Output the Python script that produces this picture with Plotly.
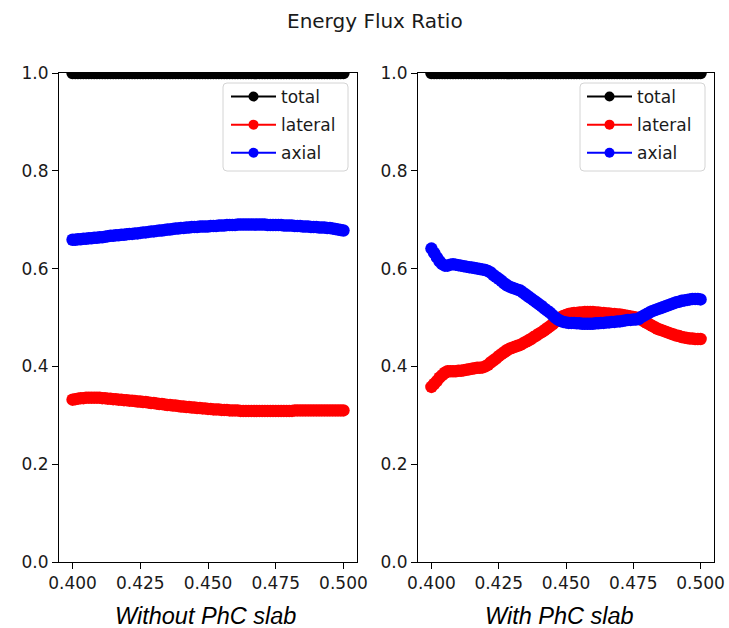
import plotly.graph_objects as go

# Frequency samples (shared by both panels)
freq = [0.400, 0.401, 0.402, 0.403, 0.404, 0.405, 0.406, 0.407, 0.408, 0.409,
        0.410, 0.411, 0.412, 0.413, 0.414, 0.415, 0.416, 0.417, 0.418, 0.419,
        0.420, 0.421, 0.422, 0.423, 0.424, 0.425, 0.426, 0.427, 0.428, 0.429,
        0.430, 0.431, 0.432, 0.433, 0.434, 0.435, 0.436, 0.437, 0.438, 0.439,
        0.440, 0.441, 0.442, 0.443, 0.444, 0.445, 0.446, 0.447, 0.448, 0.449,
        0.450, 0.451, 0.452, 0.453, 0.454, 0.455, 0.456, 0.457, 0.458, 0.459,
        0.460, 0.461, 0.462, 0.463, 0.464, 0.465, 0.466, 0.467, 0.468, 0.469,
        0.470, 0.471, 0.472, 0.473, 0.474, 0.475, 0.476, 0.477, 0.478, 0.479,
        0.480, 0.481, 0.482, 0.483, 0.484, 0.485, 0.486, 0.487, 0.488, 0.489,
        0.490, 0.491, 0.492, 0.493, 0.494, 0.495, 0.496, 0.497, 0.498, 0.499,
        0.500]

total = [1.0, 1.0, 1.0, 1.0, 1.0, 1.0, 1.0, 1.0, 1.0, 1.0,
         1.0, 1.0, 1.0, 1.0, 1.0, 1.0, 1.0, 1.0, 1.0, 1.0,
         1.0, 1.0, 1.0, 1.0, 1.0, 1.0, 1.0, 1.0, 1.0, 1.0,
         1.0, 1.0, 1.0, 1.0, 1.0, 1.0, 1.0, 1.0, 1.0, 1.0,
         1.0, 1.0, 1.0, 1.0, 1.0, 1.0, 1.0, 1.0, 1.0, 1.0,
         1.0, 1.0, 1.0, 1.0, 1.0, 1.0, 1.0, 1.0, 1.0, 1.0,
         1.0, 1.0, 1.0, 1.0, 1.0, 1.0, 1.0, 1.0, 1.0, 1.0,
         1.0, 1.0, 1.0, 1.0, 1.0, 1.0, 1.0, 1.0, 1.0, 1.0,
         1.0, 1.0, 1.0, 1.0, 1.0, 1.0, 1.0, 1.0, 1.0, 1.0,
         1.0, 1.0, 1.0, 1.0, 1.0, 1.0, 1.0, 1.0, 1.0, 1.0,
         1.0]

# Without PhC slab
lateral_bare = [0.332, 0.333, 0.334, 0.335, 0.335, 0.336, 0.336, 0.336, 0.336, 0.336,
                0.336, 0.335, 0.335, 0.334, 0.334, 0.333, 0.333, 0.332, 0.332, 0.331,
                0.331, 0.330, 0.330, 0.329, 0.328, 0.328, 0.327, 0.327, 0.326, 0.325,
                0.325, 0.324, 0.323, 0.323, 0.322, 0.321, 0.321, 0.320, 0.320, 0.319,
                0.318, 0.318, 0.317, 0.317, 0.316, 0.316, 0.315, 0.315, 0.314, 0.314,
                0.313, 0.313, 0.312, 0.312, 0.312, 0.311, 0.311, 0.311, 0.310, 0.310,
                0.310, 0.310, 0.309, 0.309, 0.309, 0.309, 0.309, 0.309, 0.309, 0.309,
                0.309, 0.309, 0.309, 0.309, 0.309, 0.309, 0.309, 0.309, 0.309, 0.309,
                0.309, 0.309, 0.310, 0.310, 0.310, 0.310, 0.310, 0.310, 0.310, 0.310,
                0.310, 0.310, 0.310, 0.310, 0.310, 0.310, 0.310, 0.310, 0.310, 0.310,
                0.310]
axial_bare = [0.659, 0.659, 0.660, 0.660, 0.661, 0.661, 0.662, 0.662, 0.663, 0.663,
              0.664, 0.664, 0.665, 0.666, 0.667, 0.667, 0.668, 0.668, 0.669, 0.669,
              0.670, 0.671, 0.671, 0.672, 0.672, 0.673, 0.674, 0.674, 0.675, 0.676,
              0.676, 0.677, 0.678, 0.678, 0.679, 0.680, 0.680, 0.681, 0.682, 0.682,
              0.683, 0.683, 0.684, 0.684, 0.685, 0.685, 0.685, 0.686, 0.686, 0.686,
              0.686, 0.687, 0.687, 0.687, 0.688, 0.688, 0.688, 0.689, 0.689, 0.689,
              0.689, 0.690, 0.690, 0.690, 0.690, 0.690, 0.690, 0.690, 0.690, 0.690,
              0.690, 0.690, 0.689, 0.689, 0.689, 0.689, 0.689, 0.689, 0.688, 0.688,
              0.688, 0.688, 0.687, 0.687, 0.687, 0.686, 0.686, 0.686, 0.685, 0.685,
              0.685, 0.684, 0.684, 0.684, 0.683, 0.683, 0.682, 0.681, 0.680, 0.679,
              0.678]

# With PhC slab
lateral_phc = [0.358, 0.364, 0.370, 0.377, 0.382, 0.387, 0.390, 0.390, 0.390, 0.390,
               0.391, 0.391, 0.392, 0.393, 0.394, 0.395, 0.396, 0.397, 0.397, 0.398,
               0.400, 0.403, 0.408, 0.412, 0.416, 0.421, 0.425, 0.429, 0.433, 0.436,
               0.438, 0.440, 0.442, 0.444, 0.447, 0.450, 0.453, 0.456, 0.460, 0.463,
               0.467, 0.470, 0.474, 0.478, 0.482, 0.486, 0.491, 0.496, 0.500, 0.503,
               0.505, 0.507, 0.508, 0.509, 0.509, 0.510, 0.510, 0.511, 0.511, 0.511,
               0.511, 0.510, 0.510, 0.509, 0.509, 0.508, 0.508, 0.507, 0.507, 0.506,
               0.506, 0.505, 0.504, 0.503, 0.502, 0.501, 0.500, 0.499, 0.496, 0.492,
               0.489, 0.486, 0.483, 0.480, 0.477, 0.475, 0.473, 0.471, 0.469, 0.467,
               0.465, 0.463, 0.462, 0.460, 0.459, 0.458, 0.457, 0.457, 0.456, 0.456,
               0.456]
axial_phc = [0.641, 0.632, 0.623, 0.615, 0.609, 0.606, 0.606, 0.608, 0.609, 0.608,
             0.607, 0.606, 0.605, 0.604, 0.603, 0.602, 0.601, 0.600, 0.599, 0.598,
             0.597, 0.595, 0.592, 0.587, 0.583, 0.579, 0.575, 0.570, 0.566, 0.563,
             0.561, 0.559, 0.557, 0.555, 0.551, 0.547, 0.543, 0.539, 0.535, 0.531,
             0.527, 0.523, 0.518, 0.514, 0.510, 0.505, 0.500, 0.496, 0.493, 0.491,
             0.490, 0.489, 0.489, 0.489, 0.488, 0.488, 0.487, 0.487, 0.487, 0.487,
             0.487, 0.488, 0.488, 0.489, 0.489, 0.490, 0.490, 0.491, 0.491, 0.492,
             0.492, 0.493, 0.494, 0.495, 0.495, 0.496, 0.496, 0.497, 0.501, 0.504,
             0.507, 0.510, 0.513, 0.515, 0.517, 0.519, 0.521, 0.523, 0.525, 0.527,
             0.529, 0.531, 0.532, 0.534, 0.535, 0.536, 0.537, 0.538, 0.538, 0.538,
             0.537]

x_ticks = [0.400, 0.425, 0.450, 0.475, 0.500]
x_tick_text = ["0.400", "0.425", "0.450", "0.475", "0.500"]
y_ticks = [0.0, 0.2, 0.4, 0.6, 0.8, 1.0]
y_tick_text = ["0.0", "0.2", "0.4", "0.6", "0.8", "1.0"]

series_names = ["total", "lateral", "axial"]
series_colors = ["#000000", "#ff0000", "#0000ff"]

W, H = 729, 628
TEXT_COLOR = "#1a1a1a"
TICK_FONT = dict(family="DejaVu Sans", size=17, color=TEXT_COLOR)


def px(x):
    return x / W


def py(y):
    return 1 - y / H


fig = go.Figure()

panels = [
    ("x", "y", "legend", [total, lateral_bare, axial_bare]),
    ("x2", "y2", "legend2", [total, lateral_phc, axial_phc]),
]
for xa, ya, leg, values in panels:
    # dense curves drawn as overlapping round markers joined by a line
    for name, color, yv in zip(series_names, series_colors, values):
        fig.add_trace(go.Scatter(
            x=freq, y=yv, name=name, mode="lines+markers",
            xaxis=xa, yaxis=ya, showlegend=False,
            line=dict(color=color, width=2),
            marker=dict(color=color, size=12.5),
        ))
    # legend entries with a smaller marker glyph
    for name, color in zip(series_names, series_colors):
        fig.add_trace(go.Scatter(
            x=[None], y=[None], name=name, mode="lines+markers",
            xaxis=xa, yaxis=ya, legend=leg, legendgroup=leg + name,
            line=dict(color=color, width=2),
            marker=dict(color=color, size=10),
        ))

axis_common = dict(
    showgrid=False, zeroline=False, showline=True, linecolor="#000000",
    linewidth=1, mirror=True, ticks="outside", ticklen=6, tickwidth=1,
    tickcolor="#000000", tickfont=TICK_FONT,
)

x_domains = [(px(59), px(357)), (px(418), px(714))]
y_domain = (py(562), py(73))

fig.update_layout(
    width=W, height=H,
    margin=dict(l=0, r=0, t=0, b=0, autoexpand=False),
    paper_bgcolor="white", plot_bgcolor="white",
    xaxis=dict(domain=x_domains[0], range=[0.395, 0.505], tickvals=x_ticks,
               ticktext=x_tick_text, anchor="y", **axis_common),
    yaxis=dict(domain=y_domain, range=[0, 1.0], tickvals=y_ticks,
               ticktext=y_tick_text, anchor="x", **axis_common),
    xaxis2=dict(domain=x_domains[1], range=[0.395, 0.505], tickvals=x_ticks,
                ticktext=x_tick_text, anchor="y2", **axis_common),
    yaxis2=dict(domain=y_domain, range=[0, 1.0], tickvals=y_ticks,
                ticktext=y_tick_text, anchor="x2", **axis_common),
)

# Legend text is laid out by plotly; its frame is a rounded box drawn as a shape
legend_common = dict(
    xanchor="left", yanchor="top", y=py(79),
    bgcolor="rgba(0,0,0,0)", borderwidth=0,
    font=dict(family="DejaVu Sans", size=17, color=TEXT_COLOR),
    tracegroupgap=3, itemwidth=45,
)
fig.update_layout(
    legend=dict(x=px(226), **legend_common),
    legend2=dict(x=px(582), **legend_common),
)


def rounded_box(x0, y0, x1, y1, r=4):
    return (
        f"M {px(x0 + r)},{py(y0)} L {px(x1 - r)},{py(y0)} "
        f"Q {px(x1)},{py(y0)} {px(x1)},{py(y0 + r)} "
        f"L {px(x1)},{py(y1 - r)} Q {px(x1)},{py(y1)} {px(x1 - r)},{py(y1)} "
        f"L {px(x0 + r)},{py(y1)} Q {px(x0)},{py(y1)} {px(x0)},{py(y1 - r)} "
        f"L {px(x0)},{py(y0 + r)} Q {px(x0)},{py(y0)} {px(x0 + r)},{py(y0)} Z"
    )


for bx0, bx1 in [(223, 348), (580, 705)]:
    fig.add_shape(
        type="path", path=rounded_box(bx0, 83, bx1, 171),
        xref="paper", yref="paper", layer="above",
        fillcolor="rgba(255,255,255,0.8)", line=dict(color="#d4d4d4", width=1),
    )

fig.add_annotation(
    text="Energy Flux Ratio", x=px(375), y=py(21), xref="paper", yref="paper",
    showarrow=False, xanchor="center", yanchor="middle",
    font=dict(family="DejaVu Sans", size=20, color=TEXT_COLOR),
)
for label, cx in [("<i>Without PhC slab</i>", 205), ("<i>With PhC slab</i>", 559)]:
    fig.add_annotation(
        text=label, x=px(cx), y=py(616), xref="paper", yref="paper",
        showarrow=False, xanchor="center", yanchor="middle",
        font=dict(family="Liberation Sans", size=23.5, color="#000000"),
    )

fig.write_html("out.html", post_script="document.body.style.margin = '0';")
